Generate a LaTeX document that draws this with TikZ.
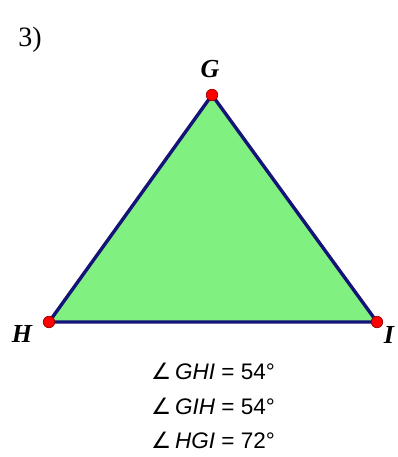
\documentclass[tikz,border=0pt]{standalone}
\usepackage{fontspec}
\setmainfont{Liberation Serif}
\newfontfamily\arialf{Liberation Sans}
\newfontfamily\symf{DejaVu Sans}
\begin{document}
\begin{tikzpicture}[x=1pt,y=-1pt,
  vtx/.style={circle,fill=red,draw=red!60!black,line width=0.7pt,inner sep=0pt,minimum size=11.5pt},
  vlabel/.style={font=\fontsize{26}{30}\selectfont\bfseries\itshape,inner sep=0pt},
  angtext/.style={font=\arialf\fontsize{22.5}{26}\selectfont,inner sep=0pt},
  side/.style={line width=3.4pt,line join=round}]
\useasboundingbox (0,0) rectangle (398,457);
\coordinate (g) at (212,95);
\coordinate (h) at (49,322);
\coordinate (i) at (377,322);
\fill[fill={rgb,255:red,128;green,240;blue,128}] (g) -- (h) -- (i) -- cycle;
\draw[side,draw={rgb,255:red,20;green,20;blue,120}] (g) -- (h) -- (i) -- cycle;
\node[vtx] (G) at (g) {};
\node[vtx] (H) at (h) {};
\node[vtx] (I) at (i) {};
\node[vlabel] (lg) at (210,69) {G};
\node[vlabel] (lh) at (22,334) {H};
\node[vlabel] (li) at (389,335) {I};
\node[font=\fontsize{28}{30}\selectfont,inner sep=0pt] (num) at (30,40) {3)};
\node[angtext] (a1) at (213,371) {{\symf\char"2220}\,\textit{GHI} = 54°};
\node[angtext] (a2) at (213,406) {{\symf\char"2220}\,\textit{GIH} = 54°};
\node[angtext] (a3) at (213,440) {{\symf\char"2220}\,\textit{HGI} = 72°};
\end{tikzpicture}
\end{document}
